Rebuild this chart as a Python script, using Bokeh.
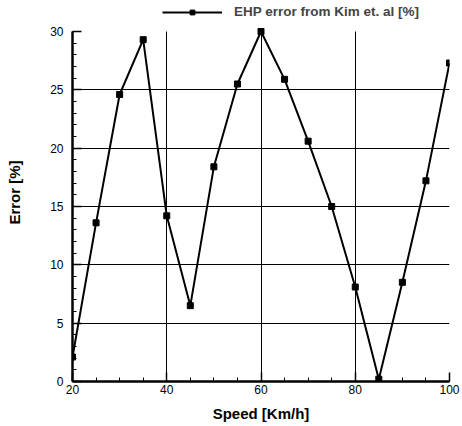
from bokeh.plotting import figure
from bokeh.models import Legend, LegendItem, SingleIntervalTicker, Range1d
from bokeh.embed import file_html
from bokeh.resources import INLINE

speed = [20, 25, 30, 35, 40, 45, 50, 55, 60, 65, 70, 75, 80, 85, 90, 95, 100]
error = [2.1, 13.6, 24.6, 29.3, 14.2, 6.5, 18.4, 25.5, 30.0, 25.9, 20.6, 15.0, 8.1, 0.2, 8.5, 17.2, 27.3]
series_label = "EHP error from Kim et. al [%]"
y_bounds = (0, 30)

p = figure(width=460, height=424, output_backend="svg", toolbar_location=None,
           x_range=Range1d(20, 100), y_range=Range1d(0, 32.4),
           min_border_left=72, min_border_right=11, min_border_top=3, min_border_bottom=41)
p.outline_line_color = None
p.background_fill_color = "white"
p.border_fill_color = "white"

r_line = p.line(speed, error, line_color="black", line_width=2)
r_mark = p.scatter(speed, error, marker="square", size=6, fill_color="black", line_color="black")

for ax, step, nminor in ((p.xaxis[0], 20, 4), (p.yaxis[0], 5, 5)):
    ax.ticker = SingleIntervalTicker(interval=step, num_minor_ticks=nminor)
    ax.axis_line_width = 2.5
    ax.axis_line_color = "black"
    ax.major_tick_in = 9
    ax.major_tick_out = 0
    ax.minor_tick_in = 4
    ax.minor_tick_out = 0
    ax.major_tick_line_width = 1.5
    ax.major_tick_line_color = "black"
    ax.minor_tick_line_color = "black"
    ax.major_label_text_font = "Liberation Sans"
    ax.major_label_text_font_size = "12px"
    ax.major_label_text_color = "black"
    ax.axis_label_text_font = "Liberation Sans"
    ax.axis_label_text_font_size = "15px"
    ax.axis_label_text_font_style = "bold"
    ax.axis_label_text_color = "black"

p.yaxis.bounds = y_bounds
p.xaxis.axis_label = "Speed [Km/h]"
p.yaxis.axis_label = "Error [%]"
p.xaxis.major_label_standoff = 3
p.yaxis.major_label_standoff = 9
p.xaxis.axis_label_standoff = 8
p.yaxis.axis_label_standoff = 24

p.xgrid.grid_line_color = "black"
p.ygrid.grid_line_color = "black"
p.xgrid.grid_line_width = 1
p.ygrid.grid_line_width = 1
p.xgrid.cross_bounds = y_bounds
p.ygrid.bounds = (0, 29)

legend = Legend(items=[LegendItem(label=series_label, renderers=[r_line, r_mark])],
                location=(90, 362), orientation="horizontal",
                glyph_width=60, glyph_height=12, label_text_font="Liberation Sans",
                label_text_font_size="13.5px", label_text_font_style="bold",
                background_fill_alpha=0, border_line_color=None,
                padding=0, margin=0, spacing=0, label_standoff=12)
p.add_layout(legend)

open("out.html", "w").write(file_html(p, INLINE))
